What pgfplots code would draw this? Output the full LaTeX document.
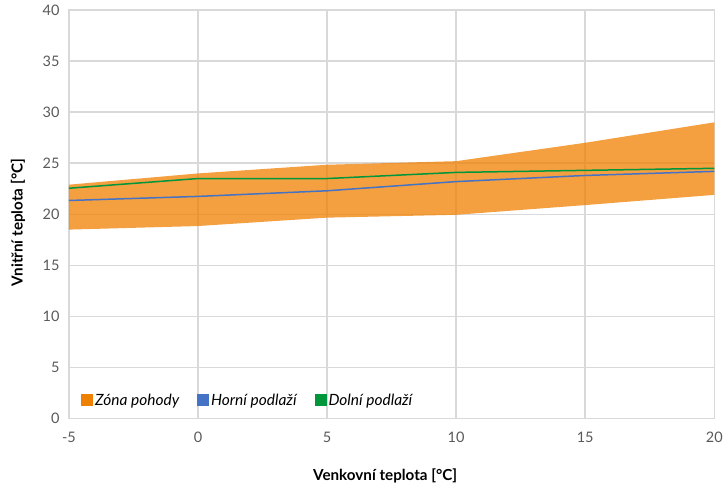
\documentclass[border=0pt]{standalone}
\usepackage{fontspec}
\setmainfont{Lato}
\usepackage{pgfplots}
\pgfplotsset{compat=1.18}
\definecolor{zone}{HTML}{F08000}
\definecolor{horni}{HTML}{4472C4}
\definecolor{dolni}{HTML}{00963C}
\definecolor{gridc}{HTML}{D9D9D9}
\definecolor{tickc}{HTML}{595959}
\begin{document}
\begin{tikzpicture}
\begin{axis}[
  at={(0,0)}, anchor=south west,
  scale only axis, width=646pt, height=409pt,
  xmin=-5, xmax=20, ymin=0, ymax=40,
  xtick={-5,0,5,10,15,20}, xticklabels={-5,0,5,10,15,20},
  ytick={0,5,...,40}, yticklabels={0,5,10,15,20,25,30,35,40},
  grid=major,
  major grid style={draw=gridc, line width=1.5pt},
  axis line style={draw=gridc, line width=1.5pt},
  tick style={draw=none},
  tick label style={font=\fontsize{14.5}{16}\selectfont, text=tickc},
  xticklabel style={yshift=-10pt},
  yticklabel style={xshift=-6pt},
  xlabel={Venkovní teplota [°C]},
  ylabel={Vnitřní teplota [°C]},
  label style={font=\fontsize{15.2}{17}\selectfont\bfseries},
  xlabel style={at={(rel axis cs:0.49,0)}, anchor=center, yshift=-57pt},
  ylabel style={at={(rel axis cs:0,0.48)}, anchor=center, rotate=0, yshift=51pt},
  legend style={at={(rel axis cs:0,0)}, anchor=south west, xshift=9pt, yshift=7pt,
    draw=none, fill=none, font=\fontsize{15.5}{17}\selectfont\itshape,
    legend columns=3, /tikz/every even column/.append style={column sep=16pt}},
  legend image code/.code={\fill[#1, fill opacity=1, draw=none] (0pt,-5pt) rectangle (12pt,7pt);},
]
\addplot[fill=zone, fill opacity=0.75, draw=none] coordinates {(-5,22.9) (0,24.0) (5,24.85) (10,25.2) (15,27.0) (20,29.0) (20,21.9) (15,20.9) (10,19.95) (5,19.67) (0,18.85) (-5,18.5)};
\addlegendentry{Zóna pohody}
\addplot[horni, line width=1.5pt] coordinates {(-5,21.35) (0,21.75) (5,22.3) (10,23.2) (15,23.8) (20,24.2)};
\addlegendentry{Horní podlaží}
\addplot[dolni, line width=1.5pt] coordinates {(-5,22.55) (0,23.5) (5,23.5) (10,24.1) (15,24.3) (20,24.5)};
\addlegendentry{Dolní podlaží}
\end{axis}
\useasboundingbox (-69pt,-65pt) rectangle (657pt,419pt);
\end{tikzpicture}
\end{document}
